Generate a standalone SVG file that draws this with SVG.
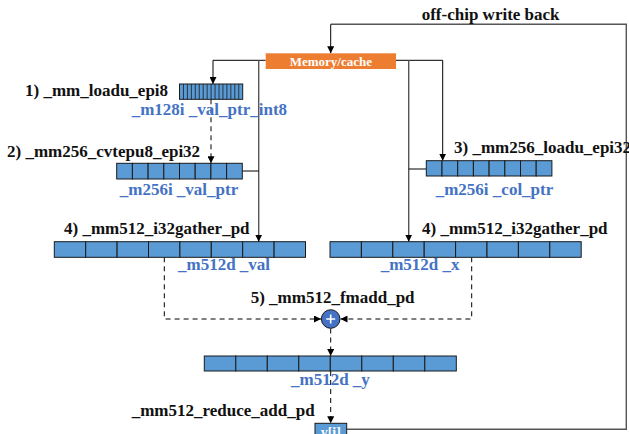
<svg xmlns="http://www.w3.org/2000/svg" width="629" height="434" viewBox="0 0 629 434">
<style>
.lbl{font-family:"Liberation Serif","Times New Roman",serif;font-weight:bold;font-size:17px;fill:#111}
.var{font-family:"Liberation Serif","Times New Roman",serif;font-weight:bold;font-size:17px;fill:#4472C4}
.cell{fill:#5B9BD5;stroke:#1a1a1a;stroke-width:1}
.ln{fill:none;stroke:#000;stroke-width:1}
.gl{fill:none;stroke:#555;stroke-width:1.4}
.ds{fill:none;stroke:#000;stroke-width:1;stroke-dasharray:5,4}
</style>
<defs>
<marker id="ah" viewBox="0 0 10 10" refX="10" refY="5" markerWidth="7" markerHeight="7" markerUnits="userSpaceOnUse" orient="auto">
<path d="M0,0 L10,5 L0,10 Z" fill="#000"/>
</marker>
</defs>

<g id="connectors">
<path class="ln" d="M265.7,60.3 H213 V84" marker-end="url(#ah)"/>
<path class="gl" d="M258.7,60.3 V241.7" marker-end="url(#ah)"/>
<path class="ln" d="M242.3,171 H258.7"/>
<path class="ln" d="M396,60.3 H442.7 V160.7" marker-end="url(#ah)"/>
<path class="gl" d="M408.7,60.3 V241.7" marker-end="url(#ah)"/>
<path class="ln" d="M426.3,169 H408.7"/>
<path class="gl" d="M346.7,429.3 H626.3 V24.3 H330.7"/>
<path class="ln" d="M330.7,24.3 V53.3" marker-end="url(#ah)"/>
<path class="ds" d="M211,99.3 V163.3" marker-end="url(#ah)"/>
<path class="ds" d="M164.3,257.3 V319 H321" marker-end="url(#ah)"/>
<path class="ds" d="M471.7,257.3 V319 H340.5" marker-end="url(#ah)"/>
<path class="ds" d="M330.7,328.5 V356" marker-end="url(#ah)"/>
<path class="ds" d="M330.7,371 V423.3" marker-end="url(#ah)"/>
</g>

<g id="memory">
<rect x="265.7" y="53.3" width="130.3" height="15.7" fill="#ED7D31"/>
<text x="330.8" y="65.5" text-anchor="middle" font-family="Liberation Serif,serif" font-weight="bold" font-size="13" fill="#fff">Memory/cache</text>
</g>
<text class="lbl" x="421.7" y="20" font-size="15.5">off-chip write back</text>

<g id="val_ptr_int8">
<rect x="179.5" y="84" width="63.2" height="15.3" fill="#5B9BD5" stroke="#1a1a1a"/>
<path stroke="#1a1a1a" stroke-width="0.8" d="M183.45,84V99.3M187.4,84V99.3M191.35,84V99.3M195.3,84V99.3M199.25,84V99.3M203.2,84V99.3M207.15,84V99.3M211.1,84V99.3M215.05,84V99.3M219,84V99.3M222.95,84V99.3M226.9,84V99.3M230.85,84V99.3M234.8,84V99.3M238.75,84V99.3"/>
<text class="lbl" x="25" y="96">1) _mm_loadu_epi8</text>
<text class="var" x="131.7" y="115">_m128i _val_ptr_int8</text>
</g>

<g id="val_ptr">
<rect class="cell" x="116.7" y="163.3" width="15.7" height="15.7"/>
<rect class="cell" x="132.4" y="163.3" width="15.7" height="15.7"/>
<rect class="cell" x="148.1" y="163.3" width="15.7" height="15.7"/>
<rect class="cell" x="163.8" y="163.3" width="15.7" height="15.7"/>
<rect class="cell" x="179.5" y="163.3" width="15.7" height="15.7"/>
<rect class="cell" x="195.2" y="163.3" width="15.7" height="15.7"/>
<rect class="cell" x="210.9" y="163.3" width="15.7" height="15.7"/>
<rect class="cell" x="226.6" y="163.3" width="15.7" height="15.7"/>
<text class="lbl" x="7" y="156.7">2) _mm256_cvtepu8_epi32</text>
<text class="var" x="179" y="195" text-anchor="middle">_m256i _val_ptr</text>
</g>

<g id="col_ptr">
<rect class="cell" x="426.3" y="160.7" width="15.7" height="15.3"/>
<rect class="cell" x="442" y="160.7" width="15.7" height="15.3"/>
<rect class="cell" x="457.7" y="160.7" width="15.7" height="15.3"/>
<rect class="cell" x="473.4" y="160.7" width="15.7" height="15.3"/>
<rect class="cell" x="489.1" y="160.7" width="15.7" height="15.3"/>
<rect class="cell" x="504.8" y="160.7" width="15.7" height="15.3"/>
<rect class="cell" x="520.5" y="160.7" width="15.7" height="15.3"/>
<rect class="cell" x="536.2" y="160.7" width="15.7" height="15.3"/>
<text class="lbl" x="454" y="153">3) _mm256_loadu_epi32</text>
<text class="var" x="494.5" y="195" text-anchor="middle">_m256i _col_ptr</text>
</g>

<g id="val">
<rect class="cell" x="54.3" y="241.7" width="31.4" height="15.6"/>
<rect class="cell" x="85.7" y="241.7" width="31.4" height="15.6"/>
<rect class="cell" x="117.1" y="241.7" width="31.4" height="15.6"/>
<rect class="cell" x="148.5" y="241.7" width="31.4" height="15.6"/>
<rect class="cell" x="179.9" y="241.7" width="31.4" height="15.6"/>
<rect class="cell" x="211.3" y="241.7" width="31.4" height="15.6"/>
<rect class="cell" x="242.7" y="241.7" width="31.4" height="15.6"/>
<rect class="cell" x="274.1" y="241.7" width="31.4" height="15.6"/>
<text class="lbl" x="64" y="234">4) _mm512_i32gather_pd</text>
<text class="var" x="178" y="270">_m512d _val</text>
</g>

<g id="x">
<rect class="cell" x="330" y="241.7" width="31.4" height="15.6"/>
<rect class="cell" x="361.4" y="241.7" width="31.4" height="15.6"/>
<rect class="cell" x="392.8" y="241.7" width="31.4" height="15.6"/>
<rect class="cell" x="424.2" y="241.7" width="31.4" height="15.6"/>
<rect class="cell" x="455.6" y="241.7" width="31.4" height="15.6"/>
<rect class="cell" x="487" y="241.7" width="31.4" height="15.6"/>
<rect class="cell" x="518.4" y="241.7" width="31.4" height="15.6"/>
<rect class="cell" x="549.8" y="241.7" width="31.4" height="15.6"/>
<text class="lbl" x="422" y="234">4) _mm512_i32gather_pd</text>
<text class="var" x="380.7" y="270">_m512d _x</text>
</g>

<g id="fmadd">
<circle cx="330.7" cy="319" r="9.3" fill="#4472C4" stroke="#1a1a1a" stroke-width="1"/>
<path d="M326.2,319H335.2M330.7,314.5V323.5" stroke="#fff" stroke-width="1.6"/>
<text class="lbl" x="250.7" y="302.7">5) _mm512_fmadd_pd</text>
</g>

<g id="y">
<rect class="cell" x="204.3" y="356" width="31.5" height="15"/>
<rect class="cell" x="235.8" y="356" width="31.5" height="15"/>
<rect class="cell" x="267.3" y="356" width="31.5" height="15"/>
<rect class="cell" x="298.8" y="356" width="31.5" height="15"/>
<rect class="cell" x="330.3" y="356" width="31.5" height="15"/>
<rect class="cell" x="361.8" y="356" width="31.5" height="15"/>
<rect class="cell" x="393.3" y="356" width="31.5" height="15"/>
<rect class="cell" x="424.8" y="356" width="31.5" height="15"/>
<text class="var" x="291" y="385">_m512d _y</text>
</g>

<g id="yi">
<rect x="315" y="423.3" width="31.7" height="16" fill="#5B9BD5" stroke="#1a1a1a"/>
<text x="330.8" y="437" text-anchor="middle" font-family="Liberation Serif,serif" font-weight="bold" font-size="14" fill="#fff">y[i]</text>
<text class="lbl" x="131.7" y="416">_mm512_reduce_add_pd</text>
</g>
</svg>
